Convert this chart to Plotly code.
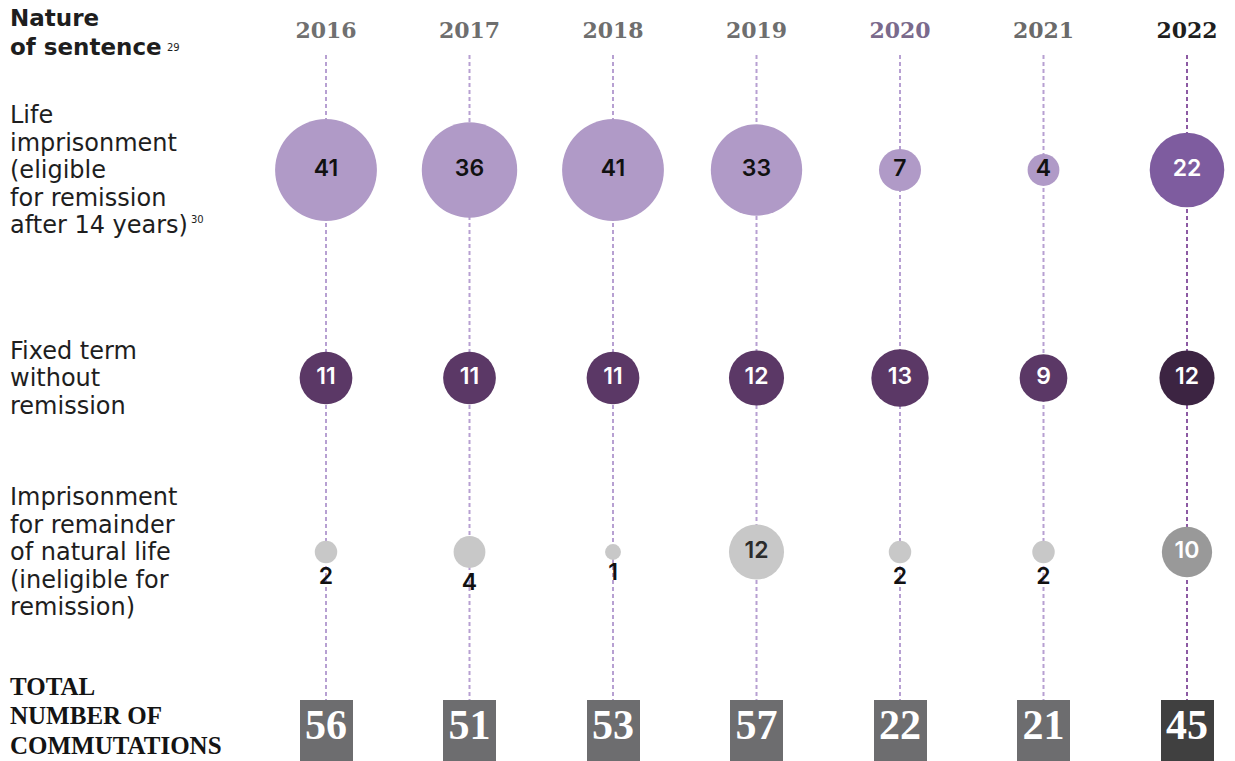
import numpy as np
import plotly.graph_objects as go

# ---- data -------------------------------------------------------------
years = ["2016", "2017", "2018", "2019", "2020", "2021", "2022"]
life_eligible = [41, 36, 41, 33, 7, 4, 22]
fixed_term = [11, 11, 11, 12, 13, 9, 12]
natural_life = [2, 4, 1, 12, 2, 2, 10]
totals = [56, 51, 53, 57, 22, 21, 45]

row_titles = [
    ["Life", "imprisonment", "(eligible", "for remission", "after 14 years)"],
    ["Fixed term", "without", "remission"],
    ["Imprisonment", "for remainder", "of natural life", "(ineligible for", "remission)"],
]

# ---- layout constants (pixels) ---------------------------------------
W, H = 1235, 761
ROW_Y = [170, 378, 552]          # vertical centre of each sentence row
YEAR_Y = 32
LINE_TOP, LINE_BOTTOM = 55, 700
BOX_TOP, BOX_H = 700, 70
TOTAL_TEXT_Y = 728
FIRST_X, LAST_X = 326, 1187
px_per_cat = (LAST_X - FIRST_X) / (len(years) - 1)
x_range = [-FIRST_X / px_per_cat, len(years) - 1 + (W - LAST_X) / px_per_cat]
DIAM_PER_SQRT = 15.9             # circle area proportional to value

SANS = "DejaVu Sans"
NUM = "Inter"
SERIF = "Liberation Serif"

last = len(years) - 1
line_colors = ["#B7A0D2"] * last + ["#8C5AA3"]
row_colors = [
    ["#B09AC7"] * last + ["#7E5C9F"],
    ["#5B3866"] * last + ["#3C2442"],
    ["#C8C8C8"] * last + ["#999999"],
]
box_colors = ["#6D6D6F"] * last + ["#404040"]
year_colors = ["#707070", "#6E6E6E", "#6E6E6E", "#6E6E6E", "#7A6A8C", "#6A6A6A", "#1E1E1E"]

fig = go.Figure()

# dotted guide lines per year
for i, yr in enumerate(years):
    fig.add_trace(go.Scatter(
        x=[yr, yr], y=[LINE_TOP, LINE_BOTTOM], mode="lines",
        line=dict(color=line_colors[i], width=2, dash="4px,3px"),
        hoverinfo="skip", showlegend=False))

# bubble rows
row_values = [life_eligible, fixed_term, natural_life]
for r, vals in enumerate(row_values):
    sizes = [DIAM_PER_SQRT * np.sqrt(v) for v in vals]
    if r == 0:
        tcol = ["#111111"] * last + ["#FFFFFF"]
        tpos = ["middle center"] * len(vals)
    elif r == 1:
        tcol = ["#FFFFFF"] * len(vals)
        tpos = ["middle center"] * len(vals)
    else:
        tpos = ["middle center" if v >= 10 else "bottom center" for v in vals]
        tcol = []
        for i, v in enumerate(vals):
            if v < 10:
                tcol.append("#111111")
            elif i == last:
                tcol.append("#FFFFFF")
            else:
                tcol.append("#2B2B2B")
    fig.add_trace(go.Scatter(
        x=years, y=[ROW_Y[r]] * len(vals), mode="markers+text",
        marker=dict(size=sizes, sizemode="diameter", color=row_colors[r],
                    line=dict(width=0), opacity=1),
        text=[str(v) for v in vals], textposition=tpos,
        textfont=dict(family=NUM, size=23, color=tcol, weight=600),
        cliponaxis=False, hoverinfo="skip", showlegend=False))

# total boxes
fig.add_trace(go.Bar(
    x=years, y=[BOX_H] * len(years), base=[BOX_TOP] * len(years),
    width=53 / px_per_cat, marker=dict(color=box_colors, line=dict(width=0)),
    hoverinfo="skip", showlegend=False))
fig.add_trace(go.Scatter(
    x=years, y=[TOTAL_TEXT_Y] * len(years), mode="text",
    text=[str(t) for t in totals], textposition="middle center",
    textfont=dict(family=SERIF, size=42, color="#FFFFFF", weight="bold"),
    cliponaxis=False, hoverinfo="skip", showlegend=False))

# year headings, drawn at the category positions of the x axis
fig.add_trace(go.Scatter(
    x=years, y=[YEAR_Y] * len(years), mode="text",
    text=["<b>%s</b>" % yr for yr in years], textposition="middle center",
    textfont=dict(family="DejaVu Serif", size=22, color=year_colors),
    cliponaxis=False, hoverinfo="skip", showlegend=False))

annotations = []


def left_text(x, y, text, size, family=SANS, color="#1E1E1E"):
    annotations.append(dict(
        x=x / W, y=y, xref="paper", yref="y", text=text, showarrow=False,
        xanchor="left", yanchor="middle",
        font=dict(family=family, size=size, color=color)))


# header with footnote marker
left_text(8, 18, "<b>Nature</b>", 23)
left_text(8, 47, "<b>of sentence</b>", 23)
left_text(165, 47, "29", 10)

# row titles
LINE_H = 27.5
for r, lines in enumerate(row_titles):
    n = len(lines)
    for k, txt in enumerate(lines):
        left_text(8, ROW_Y[r] + (k - (n - 1) / 2) * LINE_H, txt, 24)
# footnote marker on the first row title
left_text(189, 219, "30", 10)

# total label
for k, txt in enumerate(["TOTAL", "NUMBER OF", "COMMUTATIONS"]):
    left_text(8, 686 + k * 29.5, "<b>%s</b>" % txt, 25, family=SERIF, color="#141414")

fig.update_layout(
    width=W, height=H, autosize=False,
    margin=dict(l=0, r=0, t=0, b=0, pad=0),
    paper_bgcolor="#FFFFFF", plot_bgcolor="#FFFFFF",
    xaxis=dict(type="category", range=x_range, visible=False, fixedrange=True),
    yaxis=dict(range=[H, 0], visible=False, fixedrange=True),
    annotations=annotations, bargap=0,
)

fig.write_html("out.html", config={"displayModeBar": False})
